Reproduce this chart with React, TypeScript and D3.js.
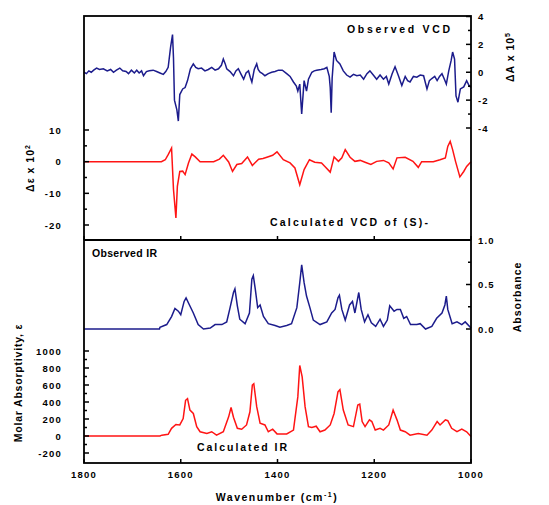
import React from "react";
import * as d3 from "d3";

const width = 549;
const height = 505;
const frame = { left: 84, right: 471, top: 16, mid: 240, bottom: 463 };

// wavenumber (cm-1), value
const obsVcd: [number, number][] = [
  [1800, 0], [1795, -0.1], [1790, 0.1], [1785, 0], [1780, 0.15], [1774, 0.3], [1768, 0.2],
  [1760, 0.25], [1752, 0.1], [1745, 0.2], [1739, 0], [1733, 0.15], [1726, 0.3], [1720, 0.1],
  [1713, 0.05], [1708, -0.1], [1702, 0.15], [1696, -0.05], [1691, 0.15], [1686, -0.05],
  [1681, 0.1], [1677, -0.25], [1671, 0.05], [1665, 0.1], [1657, 0.15], [1650, 0.05],
  [1643, -0.05], [1636, -0.15], [1631, 0.05], [1626, 0.35], [1621, 1.8], [1617, 2.7],
  [1615, 1.0], [1613, -2.0], [1608, -2.7], [1605, -3.5], [1602, -1.6], [1596, -1.2],
  [1591, -1.1], [1586, -0.6], [1580, 0.25], [1574, 0.6], [1569, 0.35], [1564, 0.25],
  [1557, 0.3], [1550, 0.1], [1543, 0.2], [1536, 0.35], [1529, 0.15], [1522, 0.25],
  [1516, 0.5], [1512, 0.95], [1508, 0.6], [1505, 0.25], [1498, 0.05], [1491, -0.25],
  [1486, 0.1], [1481, 0.25], [1476, -0.1], [1470, -0.5], [1465, -0.05], [1460, 0.1],
  [1456, -0.4], [1453, -0.7], [1448, 0.2], [1443, 0.6], [1440, 0.2], [1436, 0],
  [1431, -0.1], [1426, -0.25], [1419, -0.1], [1412, 0], [1405, 0.05], [1398, 0.15],
  [1390, 0.15], [1381, -0.1], [1374, -0.3], [1367, -0.7], [1361, -1.0], [1358, -1.35],
  [1354, -0.85], [1350, -3.0], [1345, -0.6], [1340, -1.35], [1336, -0.5], [1329, 0],
  [1324, 0.1], [1319, 0.15], [1310, 0.2], [1303, 0.25], [1298, 0.35], [1293, -0.3],
  [1291, -1.1], [1289, -2.9], [1287, -0.4], [1283, 1.45], [1278, 0.85], [1271, 0.6],
  [1264, 0.1], [1257, -0.2], [1250, -0.35], [1243, -0.15], [1236, -0.25], [1229, -0.2],
  [1222, -0.5], [1215, -0.1], [1209, 0.1], [1202, -0.2], [1195, -0.5], [1188, -0.2],
  [1181, -0.5], [1175, -0.3], [1170, -0.85], [1163, -0.1], [1157, 0.4], [1150, -0.25],
  [1143, -0.95], [1136, -0.3], [1131, -0.6], [1126, -0.7], [1119, -0.3], [1112, -0.35],
  [1105, -0.2], [1098, -0.25], [1091, -1.2], [1086, -0.6], [1081, -0.45], [1075, -0.3],
  [1070, -0.6], [1065, -0.3], [1060, -0.1], [1055, -0.5], [1051, -0.85], [1046, 0.1],
  [1041, 0.85], [1038, 1.45], [1034, 0.95], [1031, -1.7], [1027, -2.15], [1022, -1.2],
  [1015, -1.05], [1009, -0.6], [1004, -0.95], [1000, -1.1],
];

const calcVcd: [number, number][] = [
  [1800, 0], [1640, 0], [1632, 0.6], [1626, 2.2], [1619, 4.3], [1615, -8.8], [1610, -17.8],
  [1607, -7.8], [1602, -3.1], [1596, -3.0], [1591, -4.1], [1584, -0.4], [1577, 2.4],
  [1570, 1.5], [1560, 0], [1532, 0], [1520, 0.8], [1512, 2.0], [1501, -0.1], [1493, -3.1],
  [1484, -0.9], [1474, -0.6], [1462, 1.5], [1452, -1.2], [1439, 0.8], [1430, 1.0],
  [1422, 1.4], [1410, 2.0], [1401, 3.1], [1388, 0.6], [1374, -0.4], [1364, -2.0],
  [1354, -7.3], [1345, -2.5], [1334, 0.6], [1323, -0.2], [1309, -0.4], [1302, -1.5],
  [1291, -3.3], [1283, 1.5], [1274, 0.1], [1267, 1.2], [1260, 3.8], [1250, 1.4],
  [1240, 0.1], [1229, 0.4], [1219, -0.2], [1207, -0.9], [1195, 0.1], [1181, 0.4],
  [1170, -0.4], [1161, -2.3], [1153, 1.2], [1136, 1.4], [1120, 0.1], [1109, -1.8],
  [1102, 0], [1078, 0], [1064, 0.6], [1053, 1.2], [1048, 4.8], [1043, 6.4], [1038, 3.8],
  [1032, 0.1], [1023, -4.8], [1015, -3.1], [1009, -1.5], [1000, 0],
];

const obsIr: [number, number][] = [
  [1800, 0], [1644, 0], [1643, 0.02], [1629, 0.05], [1619, 0.14], [1612, 0.23],
  [1605, 0.2], [1600, 0.16], [1593, 0.31], [1589, 0.35], [1582, 0.27], [1574, 0.18],
  [1564, 0.05], [1553, 0], [1539, 0.01], [1529, 0.05], [1515, 0.05], [1505, 0.08],
  [1498, 0.24], [1491, 0.41], [1488, 0.45], [1483, 0.26], [1478, 0.11], [1467, 0.06],
  [1458, 0.18], [1453, 0.56], [1450, 0.6], [1446, 0.45], [1441, 0.24], [1436, 0.27],
  [1429, 0.14], [1419, 0.06], [1405, 0.04], [1395, 0.02], [1381, 0.04], [1371, 0.06],
  [1360, 0.24], [1354, 0.52], [1350, 0.72], [1345, 0.52], [1340, 0.37], [1333, 0.24],
  [1326, 0.1], [1312, 0.05], [1298, 0.08], [1288, 0.18], [1281, 0.22], [1275, 0.35],
  [1272, 0.38], [1267, 0.22], [1260, 0.1], [1251, 0.27], [1245, 0.31], [1240, 0.18],
  [1232, 0.41], [1227, 0.22], [1220, 0.08], [1213, 0.16], [1206, 0.07], [1197, 0.03],
  [1188, 0.11], [1181, 0.03], [1173, 0.1], [1168, 0.26], [1159, 0.2], [1153, 0.22],
  [1146, 0.22], [1139, 0.12], [1133, 0.14], [1125, 0.05], [1112, 0.05], [1105, 0.06],
  [1094, 0], [1081, 0.03], [1071, 0.12], [1060, 0.18], [1054, 0.27], [1051, 0.37],
  [1048, 0.22], [1039, 0.06], [1029, 0.08], [1019, 0.05], [1012, 0.08], [1000, 0.01],
];

const calcIr: [number, number][] = [
  [1800, 0], [1643, 0], [1639, 10], [1626, 20], [1619, 90], [1610, 135], [1602, 130],
  [1595, 205], [1590, 420], [1586, 440], [1581, 305], [1574, 265], [1567, 110],
  [1560, 50], [1546, 30], [1536, 50], [1526, 10], [1512, 50], [1501, 225], [1496, 335],
  [1491, 220], [1483, 90], [1474, 80], [1464, 130], [1457, 285], [1452, 600], [1449, 615],
  [1443, 345], [1436, 150], [1426, 130], [1419, 50], [1410, 80], [1401, 25], [1381, 25],
  [1367, 70], [1358, 460], [1354, 830], [1349, 695], [1343, 345], [1336, 110],
  [1329, 100], [1320, 115], [1312, 50], [1302, 70], [1291, 130], [1283, 265],
  [1275, 520], [1271, 545], [1264, 305], [1254, 130], [1243, 110], [1234, 365],
  [1230, 375], [1225, 170], [1219, 110], [1210, 190], [1205, 170], [1198, 70],
  [1188, 90], [1181, 70], [1170, 130], [1161, 305], [1153, 190], [1146, 70], [1136, 50],
  [1126, 10], [1109, 30], [1091, 10], [1081, 70], [1070, 170], [1064, 130], [1053, 190],
  [1048, 180], [1040, 90], [1029, 50], [1019, 80], [1009, 50], [1000, -5],
];

const xTicks = [1800, 1600, 1400, 1200, 1000];
const vcdObsTicks = [4, 2, 0, -2, -4];
const vcdObsMinor = [3, 1, -1, -3];
const vcdCalcTicks = [10, 0, -10, -20];
const vcdCalcMinor = [5, -5, -15];
const irObsTicks = [1, 0.5, 0];
const irObsMinor = [0.75, 0.25];
const irCalcTicks = [1000, 800, 600, 400, 200, 0, -200];
const irCalcMinor = [900, 700, 500, 300, 100, -100];

const navy = "#1c1c8c";
const red = "#ff1414";
const font = "'Liberation Sans', Arial, sans-serif";

export default function App() {
  const x = d3.scaleLinear().domain([1800, 1000]).range([frame.left, frame.right]);
  const yVcdObs = d3.scaleLinear().domain([-4, 4]).range([128, 16.5]);
  const yVcdCalc = d3.scaleLinear().domain([-20, 10]).range([225, 130]);
  const yIrObs = d3.scaleLinear().domain([0, 1]).range([329, 240]);
  const yIrCalc = d3.scaleLinear().domain([0, 1000]).range([436, 351]);

  const path = (data: [number, number][], y: d3.ScaleLinear<number, number>) =>
    d3.line<[number, number]>().x((d) => x(d[0])).y((d) => y(d[1]))(data) || "";

  const tickText = { fontFamily: font, fontWeight: 700, fontSize: 9.5, letterSpacing: 1.2 } as const;

  const rightTicks = (y: d3.ScaleLinear<number, number>, major: number[], minor: number[], fmt: (v: number) => string) => (
    <g>
      {major.map((v) => (
        <g key={"M" + v}>
          <line x1={frame.right} x2={frame.right - 5} y1={y(v)} y2={y(v)} stroke="#000" strokeWidth={1.5} />
          <text x={frame.right + 7} y={y(v) + 3.5} {...tickText}>{fmt(v)}</text>
        </g>
      ))}
      {minor.map((v) => (
        <line key={"m" + v} x1={frame.right} x2={frame.right - 3} y1={y(v)} y2={y(v)} stroke="#000" strokeWidth={1.5} />
      ))}
    </g>
  );

  const leftTicks = (y: d3.ScaleLinear<number, number>, major: number[], minor: number[]) => (
    <g>
      {major.map((v) => (
        <g key={"M" + v}>
          <line x1={frame.left} x2={frame.left + 5} y1={y(v)} y2={y(v)} stroke="#000" strokeWidth={1.5} />
          <text x={62} y={y(v) + 3.5} textAnchor="end" {...tickText}>{String(v)}</text>
        </g>
      ))}
      {minor.map((v) => (
        <line key={"m" + v} x1={frame.left} x2={frame.left + 3} y1={y(v)} y2={y(v)} stroke="#000" strokeWidth={1.5} />
      ))}
    </g>
  );

  const label = { fontFamily: font, fontWeight: 700, fontSize: 10.5 } as const;

  return (
    <svg width={width} height={height} style={{ position: "absolute", left: 0, top: 0, background: "#fff" }}>
      <path d={path(obsVcd, yVcdObs)} fill="none" stroke={navy} strokeWidth={1.5} />
      <path d={path(calcVcd, yVcdCalc)} fill="none" stroke={red} strokeWidth={1.5} />
      <path d={path(obsIr, yIrObs)} fill="none" stroke={navy} strokeWidth={1.5} />
      <path d={path(calcIr, yIrCalc)} fill="none" stroke={red} strokeWidth={1.5} />

      <rect x={frame.left} y={frame.top} width={frame.right - frame.left} height={frame.bottom - frame.top}
        fill="none" stroke="#000" strokeWidth={1.8} />
      <line x1={frame.left} x2={frame.right} y1={frame.mid} y2={frame.mid} stroke="#000" strokeWidth={1.8} />

      {xTicks.map((v) => (
        <g key={v}>
          <line x1={x(v)} x2={x(v)} y1={frame.bottom} y2={frame.bottom - 4} stroke="#000" strokeWidth={1.5} />
          <line x1={x(v)} x2={x(v)} y1={frame.mid} y2={frame.mid - 4} stroke="#000" strokeWidth={1.5} />
          <text x={x(v)} y={478} textAnchor="middle" {...tickText}>{v}</text>
        </g>
      ))}

      {rightTicks(yVcdObs, vcdObsTicks, vcdObsMinor, (v) => String(v))}
      {rightTicks(yIrObs, irObsTicks, irObsMinor, (v) => v.toFixed(1))}
      {leftTicks(yVcdCalc, vcdCalcTicks, vcdCalcMinor)}
      {leftTicks(yIrCalc, irCalcTicks, irCalcMinor)}

      <text x={347} y={33} textLength={103} lengthAdjust="spacing" {...label}>Observed VCD</text>
      <text x={270} y={226} textLength={158} lengthAdjust="spacing" {...label}>Calculated VCD of (S)-</text>
      <text x={92} y={257} textLength={65} lengthAdjust="spacing" {...label}>Observed IR</text>
      <text x={197} y={451} textLength={90} lengthAdjust="spacing" {...label}>Calculated IR</text>

      <text x={277} y={501} textAnchor="middle" {...label} letterSpacing={1.5}>
        Wavenumber (cm<tspan dy={-4} fontSize={7}>-1</tspan><tspan dy={4}>)</tspan>
      </text>
      <text transform="translate(514,57) rotate(-90)" textAnchor="middle" {...label} letterSpacing={1}>
        ΔA x 10<tspan dy={-4} fontSize={7}>5</tspan>
      </text>
      <text transform="translate(34,168) rotate(-90)" textAnchor="middle" {...label} letterSpacing={1}>
        Δε x 10<tspan dy={-4} fontSize={7}>2</tspan>
      </text>
      <text transform="translate(521,297) rotate(-90)" textAnchor="middle" {...label} letterSpacing={1}>
        Absorbance
      </text>
      <text transform="translate(22,383) rotate(-90)" textAnchor="middle" {...label} letterSpacing={0.8}>
        Molar Absorptivity, ε
      </text>
    </svg>
  );
}
